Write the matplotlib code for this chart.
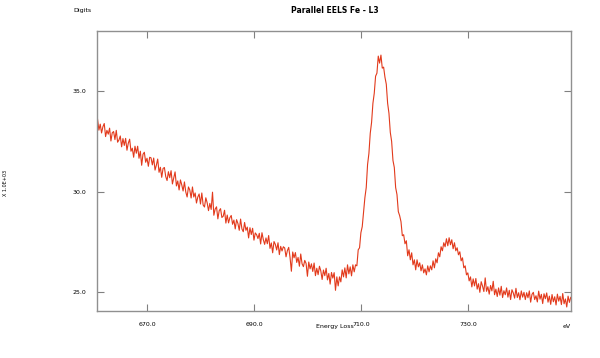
import numpy as np
import matplotlib
matplotlib.use("Agg")
import matplotlib.pyplot as plt

# spectrum, 0.25 eV channels starting at 660.75 eV
e_start = 660.75
e_step = 0.25
counts = [
    33.60, 33.06, 33.36, 32.92, 33.23, 33.39, 32.74, 33.05, 32.86, 33.16, 32.52, 32.93, 32.99, 32.59, 33.05, 32.46, 32.57, 32.77, 32.23, 32.64,
    32.30, 32.65, 32.06, 32.41, 32.61, 32.01, 32.16, 31.71, 32.26, 31.91, 32.26, 31.66, 32.01, 31.31, 31.86, 31.96, 31.46, 31.66, 31.26, 31.71,
    31.68, 31.33, 31.67, 31.07, 31.32, 31.62, 30.96, 31.21, 30.71, 31.15, 31.20, 30.75, 30.55, 30.99, 30.69, 31.04, 30.38, 30.68, 30.98, 30.28,
    30.53, 30.08, 30.58, 30.33, 30.03, 30.48, 29.98, 29.73, 30.23, 30.08, 29.68, 30.23, 29.73, 29.93, 29.43, 29.73, 29.88, 29.38, 29.93, 29.33,
    29.23, 29.69, 29.44, 29.05, 29.41, 29.11, 29.97, 28.82, 29.13, 29.24, 28.64, 29.05, 29.15, 28.71, 28.77, 29.07, 28.43, 28.83, 28.44, 28.70,
    28.81, 28.37, 28.58, 28.14, 28.60, 28.41, 28.07, 28.63, 28.14, 28.00, 28.46, 28.07, 28.23, 27.69, 28.20, 27.86, 28.17, 27.58, 27.94, 27.85,
    27.66, 27.92, 27.39, 27.95, 27.61, 27.37, 27.69, 27.40, 27.81, 27.17, 27.44, 26.95, 27.51, 27.37, 27.09, 27.45, 26.86, 27.27, 27.04, 27.25,
    27.19, 26.75, 27.06, 27.22, 26.72, 26.03, 26.99, 26.70, 26.96, 26.47, 26.72, 26.28, 26.89, 26.40, 26.26, 26.57, 26.42, 25.78, 26.49, 26.15,
    26.40, 26.02, 26.44, 25.81, 26.18, 25.86, 26.28, 26.05, 25.62, 26.09, 25.81, 26.18, 25.60, 25.92, 25.39, 25.97, 25.69, 25.96, 25.08, 25.75,
    25.30, 25.75, 25.50, 26.10, 25.75, 26.20, 25.70, 26.35, 25.90, 26.25, 25.80, 26.35, 26.00, 26.35, 26.30, 27.10, 27.20, 27.95, 28.25, 29.00,
    29.70, 30.20, 31.35, 31.90, 32.90, 33.45, 34.40, 34.90, 35.75, 35.90, 36.75, 36.40, 36.80, 36.15, 36.20, 35.70, 35.35, 34.40, 33.90, 32.95,
    32.50, 31.55, 31.20, 30.20, 29.85, 29.00, 28.80, 28.50, 27.80, 27.85, 27.40, 27.55, 26.80, 27.10, 26.60, 26.95, 26.35, 26.60, 26.10, 26.60,
    26.25, 26.45, 26.05, 26.35, 25.95, 26.15, 25.85, 26.30, 26.00, 26.30, 26.10, 26.55, 26.20, 26.65, 26.45, 26.95, 26.75, 27.25, 27.05, 27.45,
    27.25, 27.65, 27.30, 27.70, 27.35, 27.60, 27.15, 27.45, 27.05, 27.20, 26.85, 27.00, 26.55, 26.70, 26.20, 26.30, 25.85, 25.95, 25.55, 25.75,
    25.25, 25.65, 25.30, 25.67, 25.14, 25.41, 24.98, 25.51, 25.29, 25.02, 25.70, 25.03, 25.26, 24.89, 25.32, 25.05, 25.53, 24.86, 25.14, 24.77,
    25.20, 24.84, 25.28, 24.72, 25.06, 24.86, 25.20, 24.74, 25.08, 24.62, 25.11, 24.95, 24.69, 25.18, 24.72, 24.96, 24.61, 25.05, 24.74, 24.98,
    24.62, 24.96, 24.71, 25.05, 24.49, 24.88, 24.98, 24.62, 24.81, 24.50, 25.04, 24.64, 24.88, 24.42, 24.91, 24.66, 24.95, 24.49, 24.79, 24.38,
    24.87, 24.51, 24.76, 24.35, 24.89, 24.54, 24.78, 24.37, 24.92, 24.41, 24.65, 24.25, 24.79, 24.48, 24.73,
]
x_ticks = [670.0, 690.0, 710.0, 730.0]
y_ticks = [25.0, 30.0, 35.0]

energy = e_start + e_step * np.arange(len(counts))

fig = plt.figure(figsize=(6, 3.58), dpi=100)
ax = fig.add_axes([0.1617, 0.1313, 0.79, 0.7821])
ax.plot(energy, counts, color="#e23a1c", lw=0.8)

ax.set_xlim(660.65, 749.3)
ax.set_ylim(24.05, 38.0)
ax.set_xticks(x_ticks)
ax.set_yticks(y_ticks)
ax.set_xticklabels([f"{v:.1f}" for v in x_ticks])
ax.set_yticklabels([f"{v:.1f}" for v in y_ticks])
ax.tick_params(direction="in", length=5, width=0.8, color="#808080",
               labelsize=4.5, top=True, right=True, pad=8)
for s in ax.spines.values():
    s.set_color("#909090")
    s.set_linewidth(1.0)

fig.text(0.558, 0.972, "Parallel EELS Fe - L3", ha="center", va="center",
         fontsize=5.5, fontweight="bold")
fig.text(0.137, 0.972, "Digits", ha="center", va="center", fontsize=4.5)
fig.text(0.558, 0.087, "Energy Loss", ha="center", va="center", fontsize=4.5)
fig.text(0.945, 0.087, "eV", ha="center", va="center", fontsize=4.5)
fig.text(0.009, 0.49, "X 1.0E+03", ha="center", va="center", fontsize=3.5,
         rotation=90)

fig.savefig("out.png", dpi=100, facecolor="white")
